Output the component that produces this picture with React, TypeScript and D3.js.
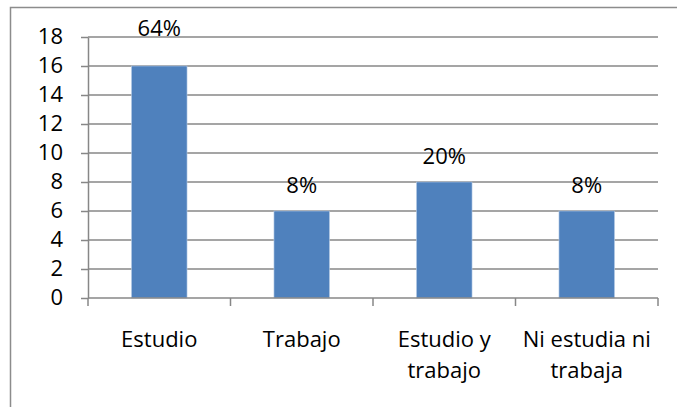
import { useEffect, useRef } from "react";
import * as d3 from "d3";

// categories (already broken into lines the way the chart shows them)
const categories = ["Estudio", "Trabajo", "Estudio y trabajo", "Ni estudia ni trabaja"];
const categoryLines = [["Estudio"], ["Trabajo"], ["Estudio y", "trabajo"], ["Ni estudia ni", "trabaja"]];
const values = [16, 6, 8, 6];
const percentLabels = ["64%", "8%", "20%", "8%"];
const yTicks = [0, 2, 4, 6, 8, 10, 12, 14, 16, 18];

export default function App() {
  const svgRef = useRef<SVGSVGElement | null>(null);
  const width = 677;
  const height = 407;

  useEffect(() => {
    if (!svgRef.current) return;
    const marginLeft = 88;
    const marginRight = 19;
    const marginTop = 37;
    const plotBottom = 298;
    const font = "'Open Sans', sans-serif";
    const fontSize = 22;
    const gridColor = "#878787";

    const svg = d3.select(svgRef.current);

    // outer chart border (right/bottom edges are cut off in the picture)
    svg.append("rect")
      .attr("x", 10.5)
      .attr("y", 7.5)
      .attr("width", 720)
      .attr("height", 440)
      .attr("fill", "white")
      .attr("stroke", "#8c8c8c")
      .attr("stroke-width", 1.5);

    const x = d3.scaleBand(categories, [marginLeft, width - marginRight]).paddingInner(0.61).paddingOuter(0.305);
    const band = d3.scaleBand(categories, [marginLeft, width - marginRight]);
    const y = d3.scaleLinear([0, 18], [plotBottom, marginTop]);

    // grid lines
    svg.append("g")
      .selectAll("line")
      .data(yTicks.filter(d => d > 0))
      .join("line")
      .attr("x1", marginLeft)
      .attr("x2", width - marginRight)
      .attr("y1", d => y(d))
      .attr("y2", d => y(d))
      .attr("stroke", gridColor)
      .attr("stroke-width", 1.5);

    // y axis
    svg.append("g")
      .attr("transform", `translate(${marginLeft},0)`)
      .call(d3.axisLeft(y).tickValues(yTicks).tickSize(7).tickPadding(18).tickSizeOuter(0))
      .call(g => g.select(".domain").attr("stroke", gridColor).attr("stroke-width", 1.5))
      .call(g => g.selectAll(".tick line").attr("stroke", gridColor).attr("stroke-width", 1.5))
      .call(g => g.selectAll(".tick text")
        .attr("font-family", font)
        .attr("font-size", fontSize)
        .attr("fill", "#000")
        .attr("dy", "0.3em"));

    // bars
    svg.append("g")
      .selectAll("rect")
      .data(values)
      .join("rect")
      .attr("x", (d, i) => x(categories[i])!)
      .attr("width", x.bandwidth())
      .attr("y", d => y(d))
      .attr("height", d => y(0) - y(d))
      .attr("fill", "#4F81BD")
      .attr("stroke", "#b9cde6")
      .attr("stroke-width", 0.6);

    // x axis
    const xTicks = [marginLeft, ...categories.map(c => band(c)! + band.bandwidth())];
    svg.append("line")
      .attr("x1", marginLeft)
      .attr("x2", width - marginRight)
      .attr("y1", plotBottom)
      .attr("y2", plotBottom)
      .attr("stroke", gridColor)
      .attr("stroke-width", 1.5);
    svg.append("g")
      .selectAll("line")
      .data(xTicks)
      .join("line")
      .attr("x1", d => d)
      .attr("x2", d => d)
      .attr("y1", plotBottom)
      .attr("y2", plotBottom + 8)
      .attr("stroke", gridColor)
      .attr("stroke-width", 1.5);

    // category labels
    svg.append("g")
      .selectAll("text")
      .data(categoryLines)
      .join("text")
      .attr("text-anchor", "middle")
      .attr("font-family", font)
      .attr("font-size", fontSize)
      .attr("fill", "#000")
      .each(function (lines, i) {
        const cx = band(categories[i])! + band.bandwidth() / 2;
        d3.select(this)
          .selectAll("tspan")
          .data(lines)
          .join("tspan")
          .attr("x", cx)
          .attr("y", (l, j) => 347 + j * 31)
          .text(l => l);
      });

    // value labels; the tallest one sits on the top gridline like in the original
    const maxValue = d3.max(values)!;
    svg.append("g")
      .selectAll("text")
      .data(values)
      .join("text")
      .attr("x", (d, i) => x(categories[i])! + x.bandwidth() / 2)
      .attr("y", d => (d === maxValue ? y(18) - 1 : y(d) - 18))
      .attr("text-anchor", "middle")
      .attr("font-family", font)
      .attr("font-size", fontSize)
      .attr("fill", "#000")
      .text((d, i) => percentLabels[i]);

    return () => {
      svg.selectAll("*").remove();
    };
  }, []);

  return (
    <svg
      ref={svgRef}
      width={width}
      height={height}
      viewBox={`0 0 ${width} ${height}`}
      style={{ position: "absolute", left: 0, top: 0, background: "white" }}
    />
  );
}
